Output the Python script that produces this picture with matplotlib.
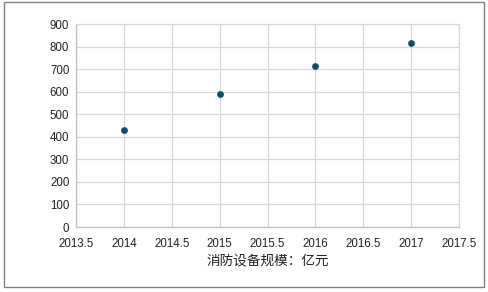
import matplotlib
matplotlib.use("Agg")
import matplotlib.pyplot as plt
from matplotlib.patches import Rectangle

years = [2014, 2015, 2016, 2017]
values = [429, 590, 713, 816]
xticks = [2013.5, 2014, 2014.5, 2015, 2015.5, 2016, 2016.5, 2017, 2017.5]
yticks = list(range(0, 1000, 100))
xlabel = "消防设备规模：亿元"

plt.rcParams['font.family'] = ['Liberation Sans', 'Noto Sans CJK SC', 'DejaVu Sans']

fig = plt.figure(figsize=(4.88, 2.92), dpi=100)
ax = fig.add_axes([76.3/488, 1 - 227/292, (458.7-76.3)/488, (227-24.3)/292])

ax.scatter(years, values, s=24, color='#0d4f6b', zorder=3, linewidths=0)
ax.set_xlim(2013.5, 2017.5)
ax.set_ylim(0, 900)
ax.set_xticks(xticks)
ax.set_xticklabels([f"{t:g}" for t in xticks])
ax.set_yticks(yticks)
ax.grid(True, color='#d9d9d9', linewidth=0.9)
ax.set_axisbelow(True)
for s in ax.spines.values():
    s.set_color('#d9d9d9')
    s.set_linewidth(0.9)
ax.spines['left'].set_color('#bfbfbf')
ax.spines['bottom'].set_color('#bfbfbf')
ax.tick_params(axis='y', length=0, labelsize=8.3, colors='#222222', pad=5)
ax.tick_params(axis='x', length=0, labelsize=8.3, colors='#222222', pad=8)
ax.set_xlabel(xlabel, fontsize=9.8, color='#222222', labelpad=3,
              family=['Noto Sans CJK SC', 'DejaVu Sans'])

fig.patches.append(Rectangle((4/488, 1 - 287/292), 480/488, 285/292,
                             transform=fig.transFigure, fill=False,
                             edgecolor='#808080', linewidth=1))

fig.savefig("out.png", dpi=100)
